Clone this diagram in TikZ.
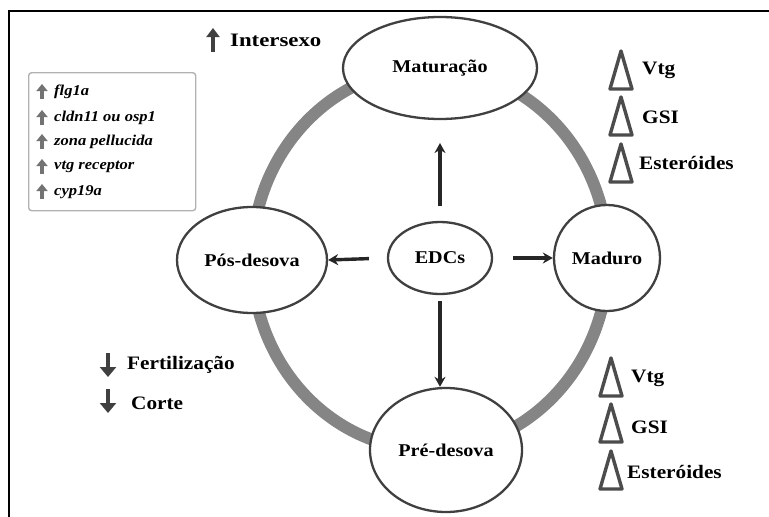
\documentclass[tikz,border=0pt]{standalone}
\usepackage{fontspec}
\setmainfont{Liberation Serif}
\usetikzlibrary{arrows.meta,shapes.geometric}
% slightly widened lettering
\newcommand\widetxt[2][1.12]{\scalebox{#1}[1]{#2}}
\begin{document}
\begin{tikzpicture}[x=1pt,y=-1pt,
  stage/.style={ellipse, draw=black!75, line width=2.3pt, fill=white,
    inner sep=0pt, font=\fontsize{18}{20}\selectfont\bfseries},
  label/.style={anchor=west, inner sep=0pt, font=\fontsize{19}{21}\selectfont\bfseries},
  gene/.style={anchor=west, inner sep=0pt, font=\fontsize{15}{17}\selectfont\bfseries\itshape},
  effect/.style={-{Stealth[length=10pt,width=11pt]}, line width=3.4pt, black!85},
  up/.pic={\draw[-{Triangle[width=11pt,length=7pt]}, line width=3.2pt, black!55] (0,7) -- (0,-8);},
  bigup/.pic={\draw[-{Triangle[width=13pt,length=9pt]}, line width=3.4pt, black!75] (0,12) -- (0,-12);},
  bigdown/.pic={\draw[-{Triangle[width=16pt,length=10pt]}, line width=3.4pt, black!75] (0,-12) -- (0,12);},
  rise/.pic={\draw[line width=3.4pt, black!70, line join=round] (0,-19) -- (11,19) -- (-11,19) -- cycle;}]
\useasboundingbox (0,0) rectangle (769,517);
% frame
\draw[line width=2pt] (9,517) -- (9,11) -- (769,11);
% cycle ring
\draw[black!48, line width=12pt] (430,259) ellipse [x radius=178pt, y radius=191pt];
% stages
\node[stage, minimum width=194pt, minimum height=102pt] (mat) at (440,68) {\widetxt{Maturação}};
\node[stage, minimum width=106pt, minimum height=106pt] (mad) at (607,258) {\widetxt{Maduro}};
\node[stage, minimum width=152pt, minimum height=124pt] (pre) at (446,450) {\widetxt{Pré-desova}};
\node[stage, minimum width=150pt, minimum height=106pt] (pos) at (252,260) {\widetxt{Pós-desova}};
\node[stage, minimum width=104pt, minimum height=72pt] (edc) at (440,258) {\widetxt{EDCs}};
% effects of EDCs
\coordinate (upend) at (440,143);
\draw[effect, shorten <=15pt] (edc.north) -- (upend);
\draw[effect, shorten <=6pt] (edc.south) -- (edc.south |- pre.north);
\draw[effect, shorten <=18pt] (edc.west) -- (pos.east);
\draw[effect, shorten <=20pt] (edc.east) -- (mad.west);
% gene list
\node[draw=black!30, line width=1.4pt, rounded corners=3pt, anchor=north west,
  minimum width=167pt, minimum height=138pt] (legend) at (28,72) {};
\foreach \y/\t [count=\i] in {92/flg1a,118/cldn11 ou osp1,142/zona pellucida,167/vtg receptor,192/cyp19a}{
  \pic at (42,\y) {up};
  \node[gene] (g\i) at (54,\y) {\widetxt[1.1]{\t}};
}
% intersex
\pic at (213,40) {bigup};
\node[label] (inter) at (230,40) {\widetxt[1.2]{Intersexo}};
% fertilization and courtship
\pic at (108,365) {bigdown};
\node[label] (fert) at (127,365) {\widetxt{Fertilização}};
\pic at (108,401) {bigdown};
\node[label] (corte) at (131,403) {\widetxt{Corte}};
% mature markers
\pic at (621,70) {rise};
\node[label] (v1) at (642,70) {\widetxt{Vtg}};
\pic at (621,116) {rise};
\node[label] (s1) at (642,117) {\widetxt{GSI}};
\pic at (621,163) {rise};
\node[label] (e1) at (639,163) {\widetxt{Esteróides}};
% pre-spawning markers
\pic at (611,377) {rise};
\node[label] (v2) at (631,378) {\widetxt{Vtg}};
\pic at (611,423) {rise};
\node[label] (s2) at (631,427) {\widetxt{GSI}};
\pic at (611,470) {rise};
\node[label] (e2) at (627,472) {\widetxt{Esteróides}};
\end{tikzpicture}
\end{document}
